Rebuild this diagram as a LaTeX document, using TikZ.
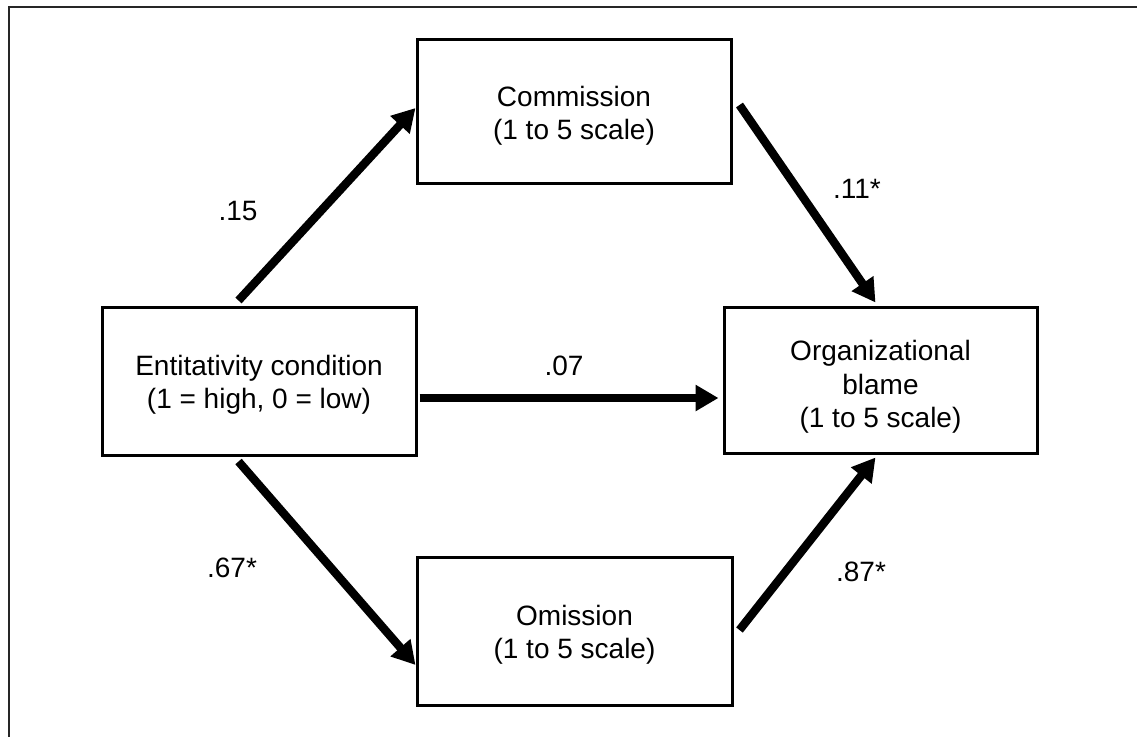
\documentclass[tikz,border=0pt]{standalone}
\usepackage{fontspec}
\setmainfont{Liberation Sans}
\usetikzlibrary{arrows.meta}
\begin{document}
\begin{tikzpicture}[x=0.5pt,y=-0.5pt,
  box/.style={draw=black,line width=1.5pt,inner sep=0pt},
  txt/.style={inner sep=0pt,align=center,font=\fontsize{14}{16.7}\selectfont},
  path/.style={line width=4.2pt,-{Triangle[length=11.5pt,width=12.5pt]}},
  lab/.style={inner sep=0pt,font=\fontsize{14}{16.5}\selectfont}]
\useasboundingbox (0,0) rectangle (1137,736);
\draw[line width=1pt,black!85] (8.5,740) |- (1140,6.5);
\node[box,minimum width=157pt,minimum height=72pt] (comm) at (574,111) {};
\node[box,minimum width=157pt,minimum height=74pt] (ent) at (259,381) {};
\node[box,minimum width=156.5pt,minimum height=73pt] (org) at (880.5,380) {};
\node[box,minimum width=157.5pt,minimum height=74pt] (omi) at (574.5,631) {};
\node[txt] (commt) at ([shift={(0,5)}]comm.center) {Commission\\(1 to 5 scale)};
\node[txt] (entt) at ([shift={(0,4)}]ent.center) {Entitativity condition\\(1 = high, 0 = low)};
\node[txt] (orgt) at ([shift={(0,7)}]org.center) {Organizational\\blame\\(1 to 5 scale)};
\node[txt] (omit) at ([shift={(0,4)}]omi.center) {Omission\\(1 to 5 scale)};
\draw[path] ([shift={(138,-5)}]ent.north west) -- ([shift={(0,-3)}]comm.west);
\draw[path] ([shift={(7,-6)}]comm.east) -- ([shift={(-5,-3)}]org.north);
\draw[path] ([shift={(138,5)}]ent.south west) -- ([shift={(0,34)}]omi.west);
\draw[path] ([shift={(6,-1)}]omi.east) -- ([shift={(-5,3)}]org.south);
\draw[path] ([shift={(2,17)}]ent.east) -- ([shift={(-4,18)}]org.west);
\node[lab] (l15) at (238,211) {.15};
\node[lab] (l11) at (857,189) {.11*};
\node[lab] (l07) at (564,366) {.07};
\node[lab] (l67) at (232,568) {.67*};
\node[lab] (l87) at (861,572) {.87*};
\end{tikzpicture}
\end{document}
